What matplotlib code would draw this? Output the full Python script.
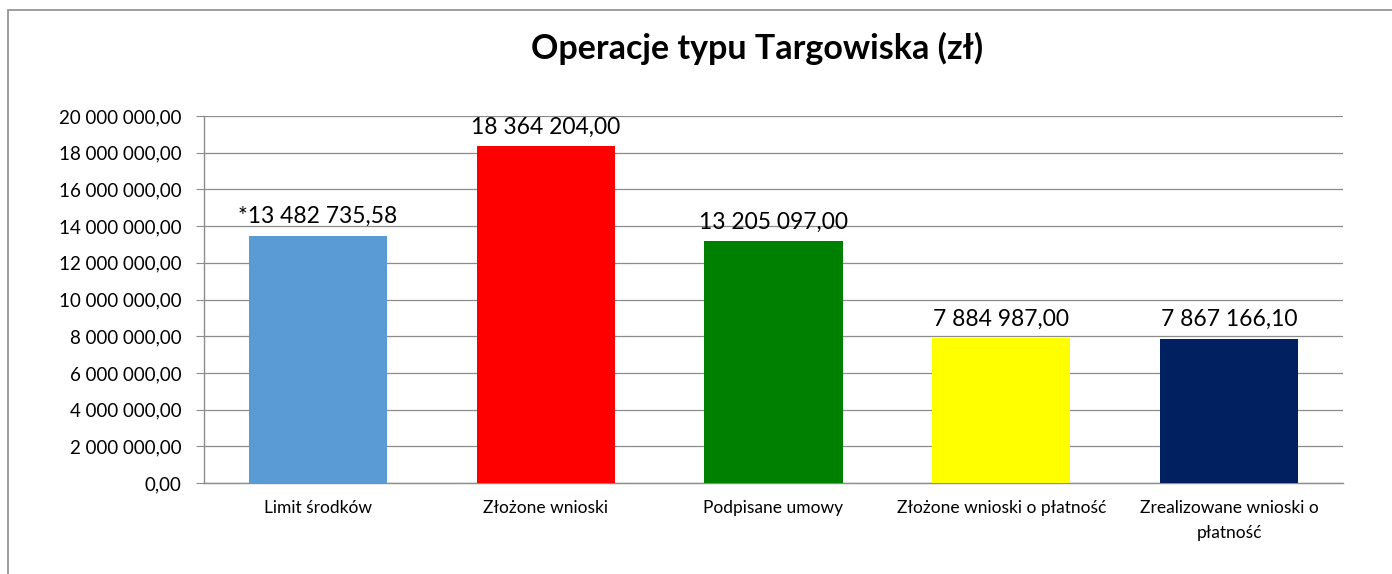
import matplotlib
matplotlib.use("Agg")
import matplotlib.pyplot as plt
from matplotlib.patches import Rectangle

categories = ["Limit środków", "Złożone wnioski", "Podpisane umowy",
              "Złożone wnioski o płatność", "Zrealizowane wnioski o\npłatność"]
values = [13482735.58, 18364204.00, 13205097.00, 7884987.00, 7867166.10]
value_labels = ["*13 482 735,58", "18 364 204,00", "13 205 097,00",
                "7 884 987,00", "7 867 166,10"]
colors = ["#5B9BD5", "#FF0000", "#008000", "#FFFF00", "#002060"]
yticks = list(range(0, 20000001, 2000000))
title = "Operacje typu Targowiska (zł)"

plt.rcParams['font.family'] = ['Lato', 'DejaVu Sans']

W, H = 1392, 574
fig = plt.figure(figsize=(W / 100, H / 100), dpi=100)

# chart frame
fig.patches.append(Rectangle((8 / W, -0.01), 1.0, 1 - 10 / H + 0.01,
                             transform=fig.transFigure, fill=False,
                             edgecolor="#8c8c8c", linewidth=1.2))

ax = fig.add_axes([204 / W, 1 - 483 / H, (1343 - 204) / W, (483 - 116) / H])
x = range(len(categories))
ax.bar(x, values, width=0.606, color=colors, zorder=3)
ax.set_xlim(-0.5, len(categories) - 0.5)
ax.set_ylim(0, 20000000)
ax.set_yticks(yticks)
ax.set_yticklabels([f"{v:,.2f}".replace(",", " ").replace(".", ",") for v in yticks],
                   fontsize=13.5)
ax.set_xticks(list(x))
ax.set_xticklabels(categories, fontsize=12.5, linespacing=1.75)
ax.tick_params(axis='x', length=0, pad=12)
ax.tick_params(axis='y', length=6, color="#8c8c8c", pad=10)
ax.grid(axis='y', color="#8c8c8c", linewidth=0.9, zorder=0)
for s in ["top", "right"]:
    ax.spines[s].set_visible(False)
for s in ["left", "bottom"]:
    ax.spines[s].set_color("#8c8c8c")
    ax.spines[s].set_linewidth(1.0)

for xi, v, lab in zip(x, values, value_labels):
    ax.annotate(lab, (xi, v), xytext=(0, 6), textcoords="offset points",
                ha="center", va="bottom", fontsize=16.5)

fig.text(757 / W, 1 - 48 / H, title, ha="center", va="center",
         fontsize=24.5, fontweight="bold")

fig.savefig("out.png", dpi=100)
